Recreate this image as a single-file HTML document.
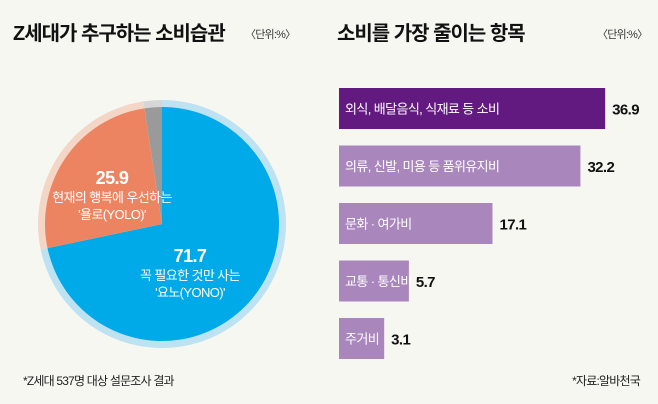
<!DOCTYPE html>
<html><head><meta charset="utf-8"><style>
html,body{margin:0;padding:0;background:#f7f7f2;}
svg{display:block;font-family:"Liberation Sans","Noto Sans CJK KR",sans-serif;}
</style></head><body>
<svg id="c" width="658" height="404" viewBox="0 0 658 404">
<rect width="658" height="404" fill="#f7f7f2"/>
<text x="13" y="40" font-size="20" font-weight="bold" fill="#111" letter-spacing="-1">Z세대가 추구하는 소비습관</text>
<text x="245" y="38" font-size="11" fill="#333" letter-spacing="-0.8">〈단위:%〉</text>
<text x="337" y="40" font-size="20" font-weight="bold" fill="#111" letter-spacing="-1">소비를 가장 줄이는 항목</text>
<text x="597" y="38" font-size="11" fill="#333" letter-spacing="-0.8">〈단위:%〉</text>
<g id="pie"></g>
<g id="bars"></g>
<text x="23" y="385" font-size="12" fill="#222" letter-spacing="-0.8">*Z세대 537명 대상 설문조사 결과</text>
<text x="640" y="385" font-size="12" fill="#222" text-anchor="end" letter-spacing="-0.8">*자료:알바천국</text>
</svg>
<script>
const pieLabels=["요노(YONO)","욜로(YOLO)","기타"];
const pieValues=[71.7,25.9,2.4];
const pieColors=["#00a9e8","#ec8462","#9a9a9a"];
const ringColors=["#bde3f2","#f4d6c6","#d6d6d6"];
const barCategories=["외식, 배달음식, 식재료 등 소비","의류, 신발, 미용 등 품위유지비","문화 · 여가비","교통 · 통신비","주거비"];
const barValues=[36.9,32.2,17.1,5.7,3.1];
const barValueLabels=["36.9","32.2","17.1","5.7","3.1"];
const NS="http://www.w3.org/2000/svg";
function mk(t,a,p){const e=document.createElementNS(NS,t);for(const k in a)e.setAttribute(k,a[k]);p.appendChild(e);return e;}
const pg=document.getElementById('pie');
const cx=162,cy=224,R=124,r=117;
const tot=pieValues.reduce((a,b)=>a+b,0);
function pt(rad,ang){return [cx+rad*Math.sin(ang),cy-rad*Math.cos(ang)];}
function arc(rad,a0,a1){const p0=pt(rad,a0),p1=pt(rad,a1);const lg=(a1-a0)>Math.PI?1:0;return `M${cx},${cy}L${p0[0]},${p0[1]}A${rad},${rad} 0 ${lg} 1 ${p1[0]},${p1[1]}Z`;}
let acc=0;
pieValues.forEach((v,i)=>{const a0=acc/tot*2*Math.PI;acc+=v;const a1=acc/tot*2*Math.PI;
 const ring=mk('path',{d:arc(R,a0,a1),fill:ringColors[i]},pg);
 
 
 const s=mk('path',{d:arc(r,a0,a1),fill:pieColors[i]},pg);
 
 
});
function txt(p,x,y,s,str,w,name){const t=mk('text',{x:x,y:y,'font-size':s,fill:'#fff','text-anchor':'middle','font-weight':w,'letter-spacing':'-0.6'},p);t.textContent=str;return t;}
txt(pg,190,262,18,pieValues[0].toFixed(1),'bold','yono-value');
txt(pg,190,280,13,'꼭 필요한 것만 사는','normal','yono-desc');
txt(pg,190,297,13,"'"+pieLabels[0]+"'",'normal','yono-name');
txt(pg,112,184,18,pieValues[1].toFixed(1),'bold','yolo-value');
txt(pg,112,202,13,'현재의 행복에 우선하는','normal','yolo-desc');
txt(pg,112,219,13,"'"+pieLabels[1]+"'",'normal','yolo-name');
const bg=document.getElementById('bars');
const x0=339,y0=88,bh=41,step=57.5;
function xw(v){return 20.1*Math.pow(v,0.716);}
barValues.forEach((v,i)=>{const y=y0+i*step;const w=xw(v);
 const b=mk('rect',{x:x0,y:y,width:w,height:bh,fill:i==0?'#631a80':'#a987bd'},bg);
 
 
 const l=mk('text',{x:x0+6,y:y+bh/2+5,'font-size':13,fill:'#fff','letter-spacing':'-0.6'},bg);l.textContent=barCategories[i];
 
 
 const vt=mk('text',{x:x0+w+7,y:y+bh/2+6,'font-size':15,'font-weight':'bold',fill:'#111','letter-spacing':'-0.6'},bg);vt.textContent=barValueLabels[i];
 
 
});
</script>
</body></html>
